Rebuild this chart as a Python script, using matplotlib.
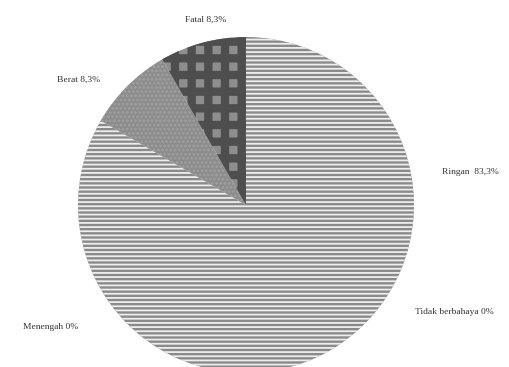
import matplotlib.pyplot as plt
import numpy as np

# Data
categories = ["Ringan", "Tidak berbahaya", "Menengah", "Berat", "Fatal"]
values = [83.3, 0.0, 0.0, 8.3, 8.3]
labels = ["Ringan  83,3%", "Tidak berbahaya 0%", "Menengah 0%", "Berat 8,3%", "Fatal 8,3%"]
# label anchor positions (pixels) as laid out in the original
label_px = [(470, 172), (454, 312), (51, 327), (79, 80), (206, 20)]

faces = ["#8a8a8a", "#8a8a8a", "#8a8a8a", "#8c8c8c", "#4e4e4e"]
hatch_cols = ["#eeeeee", "#eeeeee", "#eeeeee", "#a0a0a0", "#8e8e8e"]
hatches = ["----", "----", "----", "....", "+"]

W, H = 509, 367
cx, cy, R = 246, 205, 168

fig = plt.figure(figsize=(W / 100, H / 100), dpi=100)
ax = fig.add_axes([0, 0, 1, 1])
ax.set_xlim(-cx / R, (W - cx) / R)
ax.set_ylim((cy - H) / R, cy / R)
ax.set_aspect("equal")
ax.axis("off")

plt.rcParams["hatch.linewidth"] = 1.3
wedges, _ = ax.pie(values, startangle=90, counterclock=False, radius=1,
                   colors=faces, wedgeprops=dict(linewidth=0))
for w, hc, h in zip(wedges, hatch_cols, hatches):
    w.set_edgecolor(hc)
    w.set_hatch(h)
    w.set_linewidth(0)

# "Fatal": dark wedge with light square dots -> light face + thick dark grid
wedges[4].set_facecolor("#8e8e8e")
wedges[4].set_edgecolor("#4e4e4e")
if hasattr(wedges[4], "set_hatch_linewidth"):
    wedges[4].set_hatch_linewidth(6)
else:
    wedges[4]._hatch_linewidth = 6

for lab, (px, py) in zip(labels, label_px):
    ax.text((px - cx) / R, (cy - py) / R, lab, ha="center", va="center",
            fontsize=6.8, family="Liberation Serif", color="#333333")

ax.set_xlim(-cx / R, (W - cx) / R)
ax.set_ylim((cy - H) / R, cy / R)
fig.savefig("out.png", dpi=100)
